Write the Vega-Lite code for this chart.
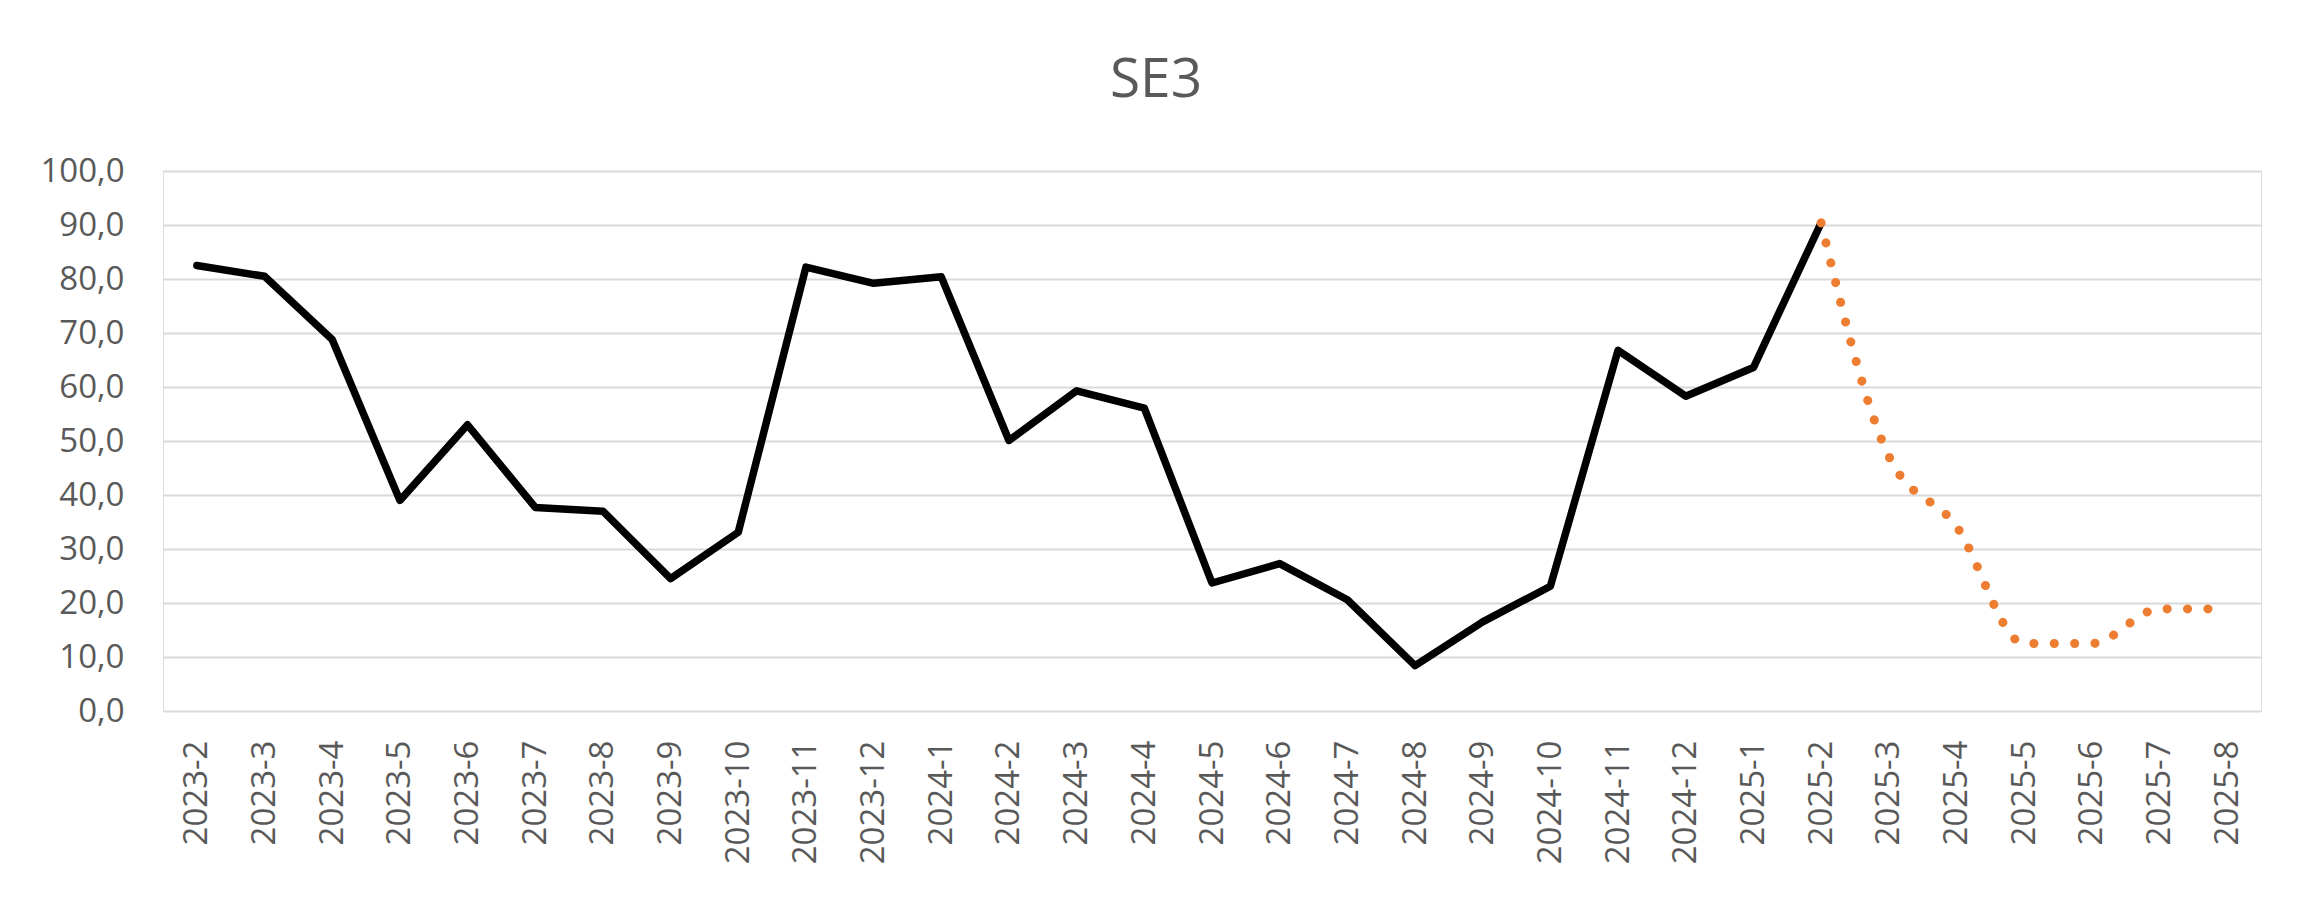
{
  "$schema": "https://vega.github.io/schema/vega-lite/v6.json",
  "autosize": {"type": "none"},
  "width": 2098,
  "height": 540,
  "padding": {"left": 163, "top": 171, "right": 52, "bottom": 196},
  "background": "white",
  "title": {
    "text": "SE3",
    "font": "Open Sans",
    "fontSize": 55,
    "fontWeight": "normal",
    "color": "#595959",
    "anchor": "middle",
    "frame": "group",
    "dx": -56,
    "offset": 46
  },
  "data": {
    "values": [
      {"month": "2023-2", "actual": 82.5, "forecast": null},
      {"month": "2023-3", "actual": 80.5, "forecast": null},
      {"month": "2023-4", "actual": 68.8, "forecast": null},
      {"month": "2023-5", "actual": 39.0, "forecast": null},
      {"month": "2023-6", "actual": 53.0, "forecast": null},
      {"month": "2023-7", "actual": 37.7, "forecast": null},
      {"month": "2023-8", "actual": 37.0, "forecast": null},
      {"month": "2023-9", "actual": 24.5, "forecast": null},
      {"month": "2023-10", "actual": 33.1, "forecast": null},
      {"month": "2023-11", "actual": 82.2, "forecast": null},
      {"month": "2023-12", "actual": 79.2, "forecast": null},
      {"month": "2024-1", "actual": 80.4, "forecast": null},
      {"month": "2024-2", "actual": 50.1, "forecast": null},
      {"month": "2024-3", "actual": 59.3, "forecast": null},
      {"month": "2024-4", "actual": 56.1, "forecast": null},
      {"month": "2024-5", "actual": 23.7, "forecast": null},
      {"month": "2024-6", "actual": 27.3, "forecast": null},
      {"month": "2024-7", "actual": 20.6, "forecast": null},
      {"month": "2024-8", "actual": 8.4, "forecast": null},
      {"month": "2024-9", "actual": 16.5, "forecast": null},
      {"month": "2024-10", "actual": 23.1, "forecast": null},
      {"month": "2024-11", "actual": 66.8, "forecast": null},
      {"month": "2024-12", "actual": 58.3, "forecast": null},
      {"month": "2025-1", "actual": 63.6, "forecast": null},
      {"month": "2025-2", "actual": 90.4, "forecast": 90.4},
      {"month": "2025-3", "actual": null, "forecast": 47.2},
      {"month": "2025-4", "actual": null, "forecast": 34.2},
      {"month": "2025-5", "actual": null, "forecast": 12.5},
      {"month": "2025-6", "actual": null, "forecast": 12.5},
      {"month": "2025-7", "actual": null, "forecast": 18.9},
      {"month": "2025-8", "actual": null, "forecast": 18.9}
    ]
  },
  "encoding": {
    "x": {
      "field": "month",
      "type": "ordinal",
      "sort": null,
      "scale": {"paddingInner": 0, "paddingOuter": 0.5},
      "axis": {
        "title": null,
        "labelAngle": -90,
        "labelAlign": "right",
        "labelBaseline": "middle",
        "labelFont": "Open Sans",
        "labelFontSize": 33,
        "labelColor": "#595959",
        "labelPadding": 29,
        "ticks": false,
        "domain": false,
        "grid": false
      }
    }
  },
  "layer": [
    {
      "mark": {"type": "line", "color": "#000000", "strokeWidth": 7.5, "strokeJoin": "round", "strokeCap": "round"},
      "encoding": {
        "y": {
          "field": "actual",
          "type": "quantitative",
          "scale": {"domain": [0, 100], "nice": false},
          "axis": {
            "title": null,
            "values": [0, 10, 20, 30, 40, 50, 60, 70, 80, 90, 100],
            "labelExpr": "replace(format(datum.value, '.1f'), '.', ',')",
            "labelFont": "Open Sans",
            "labelFontSize": 33,
            "labelColor": "#595959",
            "labelPadding": 39,
            "ticks": false,
            "domain": false,
            "grid": true,
            "gridColor": "#D9D9D9",
            "gridWidth": 2
          }
        }
      }
    },
    {
      "mark": {"type": "line", "color": "#ED7D31", "strokeWidth": 9, "strokeCap": "round", "strokeDash": [0.1, 20.3], "interpolate": "monotone"},
      "encoding": {
        "y": {"field": "forecast", "type": "quantitative"}
      }
    }
  ]
}
